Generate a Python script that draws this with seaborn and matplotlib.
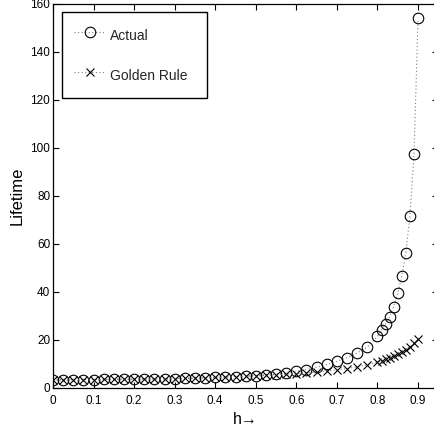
import matplotlib
matplotlib.use("Agg")
import matplotlib.pyplot as plt
import seaborn as sns
import pandas as pd

# ---- data ----
h = [0.0, 0.025, 0.05, 0.075, 0.1, 0.125, 0.15, 0.175, 0.2, 0.225, 0.25,
     0.275, 0.3, 0.325, 0.35, 0.375, 0.4, 0.425, 0.45, 0.475, 0.5, 0.525,
     0.55, 0.575, 0.6, 0.625, 0.65, 0.675, 0.7, 0.725, 0.75, 0.775, 0.8,
     0.81, 0.82, 0.83, 0.84, 0.85, 0.86, 0.87, 0.88, 0.89, 0.9]
actual = [3.4, 3.4, 3.45, 3.5, 3.5, 3.55, 3.6, 3.65, 3.7, 3.75, 3.8,
          3.85, 3.9, 4.0, 4.1, 4.25, 4.4, 4.55, 4.75, 4.95, 5.2, 5.5,
          5.85, 6.3, 6.9, 7.7, 8.7, 9.8, 11.1, 12.6, 14.6, 17.0, 21.6,
          24.2, 26.7, 29.7, 33.9, 39.4, 46.7, 56.4, 71.8, 97.4, 154.0]
golden = [3.4, 3.4, 3.45, 3.5, 3.5, 3.55, 3.6, 3.65, 3.7, 3.75, 3.8,
          3.85, 3.9, 4.0, 4.1, 4.25, 4.4, 4.55, 4.7, 4.9, 5.1, 5.35,
          5.55, 5.75, 6.0, 6.3, 6.6, 7.0, 7.5, 8.1, 8.8, 9.7, 10.8,
          11.4, 11.9, 12.5, 13.2, 14.0, 14.9, 15.9, 17.2, 18.7, 20.4]
series_names = ["Actual", "Golden Rule"]
xticks = [0, 0.1, 0.2, 0.3, 0.4, 0.5, 0.6, 0.7, 0.8, 0.9]
xtick_labels = ["0", "0.1", "0.2", "0.3", "0.4", "0.5", "0.6", "0.7", "0.8", "0.9"]
yticks = [0, 20, 40, 60, 80, 100, 120, 140, 160]
ytick_labels = ["0", "20", "40", "60", "80", "100", "120", "140", "160"]

df_a = pd.DataFrame({"h": h, "v": actual})
df_g = pd.DataFrame({"h": h, "v": golden})

sns.set_theme(style="white")
plt.rcParams["font.family"] = ["Liberation Sans", "DejaVu Sans"]

fig = plt.figure(figsize=(4.35, 4.29), dpi=100)
ax = fig.add_axes([53 / 435, 1 - 388 / 429, (0.95 * 405.6) / 435, (388 - 4) / 429])

line_kws = dict(color="0.5", linestyle=(0, (1, 2.2)), linewidth=0.8,
                markeredgecolor="black", markerfacecolor="none",
                markeredgewidth=0.8, estimator=None, sort=False)
sns.lineplot(data=df_a, x="h", y="v", ax=ax, marker="o", markersize=7.6,
             label=series_names[0], **line_kws)
sns.lineplot(data=df_g, x="h", y="v", ax=ax, marker="x", markersize=5.2,
             label=series_names[1], **line_kws)

ax.set_xlim(0, 0.95)
ax.set_ylim(0, 160)
ax.set_xticks(xticks)
ax.set_xticklabels(xtick_labels)
ax.set_yticks(yticks)
ax.set_yticklabels(ytick_labels)
ax.tick_params(direction="in", length=4.5, width=0.8, color="black",
               labelsize=8.5, labelcolor="black", top=True, right=True,
               bottom=True, left=True)
ax.tick_params(axis="y", pad=2)
ax.tick_params(axis="x", pad=5)
for s in ax.spines.values():
    s.set_visible(True)
    s.set_color("black")
    s.set_linewidth(0.9)

ax.set_xlabel("h\u2192", fontsize=11.5, color="black", labelpad=4)
ax.set_ylabel("Lifetime", fontsize=12, color="black")
ax.yaxis.set_label_coords(-0.073, 0.5)

# legend box in axes coords: x 62..207 px, y 12..98 px
ax_w = 0.95 * 405.6
ax_h = 384.0
x0 = (62 - 53) / ax_w
w = (207 - 62) / ax_w
y_top = (388 - 12) / ax_h
leg = ax.legend(loc="upper left", bbox_to_anchor=(x0, y_top - 0.5, w, 0.5),
                mode="expand", frameon=True, fancybox=False, shadow=False,
                fontsize=10, handlelength=2.3, handleheight=2.1,
                handletextpad=0.3, labelspacing=1.28, borderpad=0.86,
                borderaxespad=0, numpoints=1)
leg.get_frame().set_edgecolor("black")
leg.get_frame().set_linewidth(1.0)
leg.get_frame().set_facecolor("white")
leg.get_frame().set_alpha(1)

fig.savefig("out.png", dpi=100)
